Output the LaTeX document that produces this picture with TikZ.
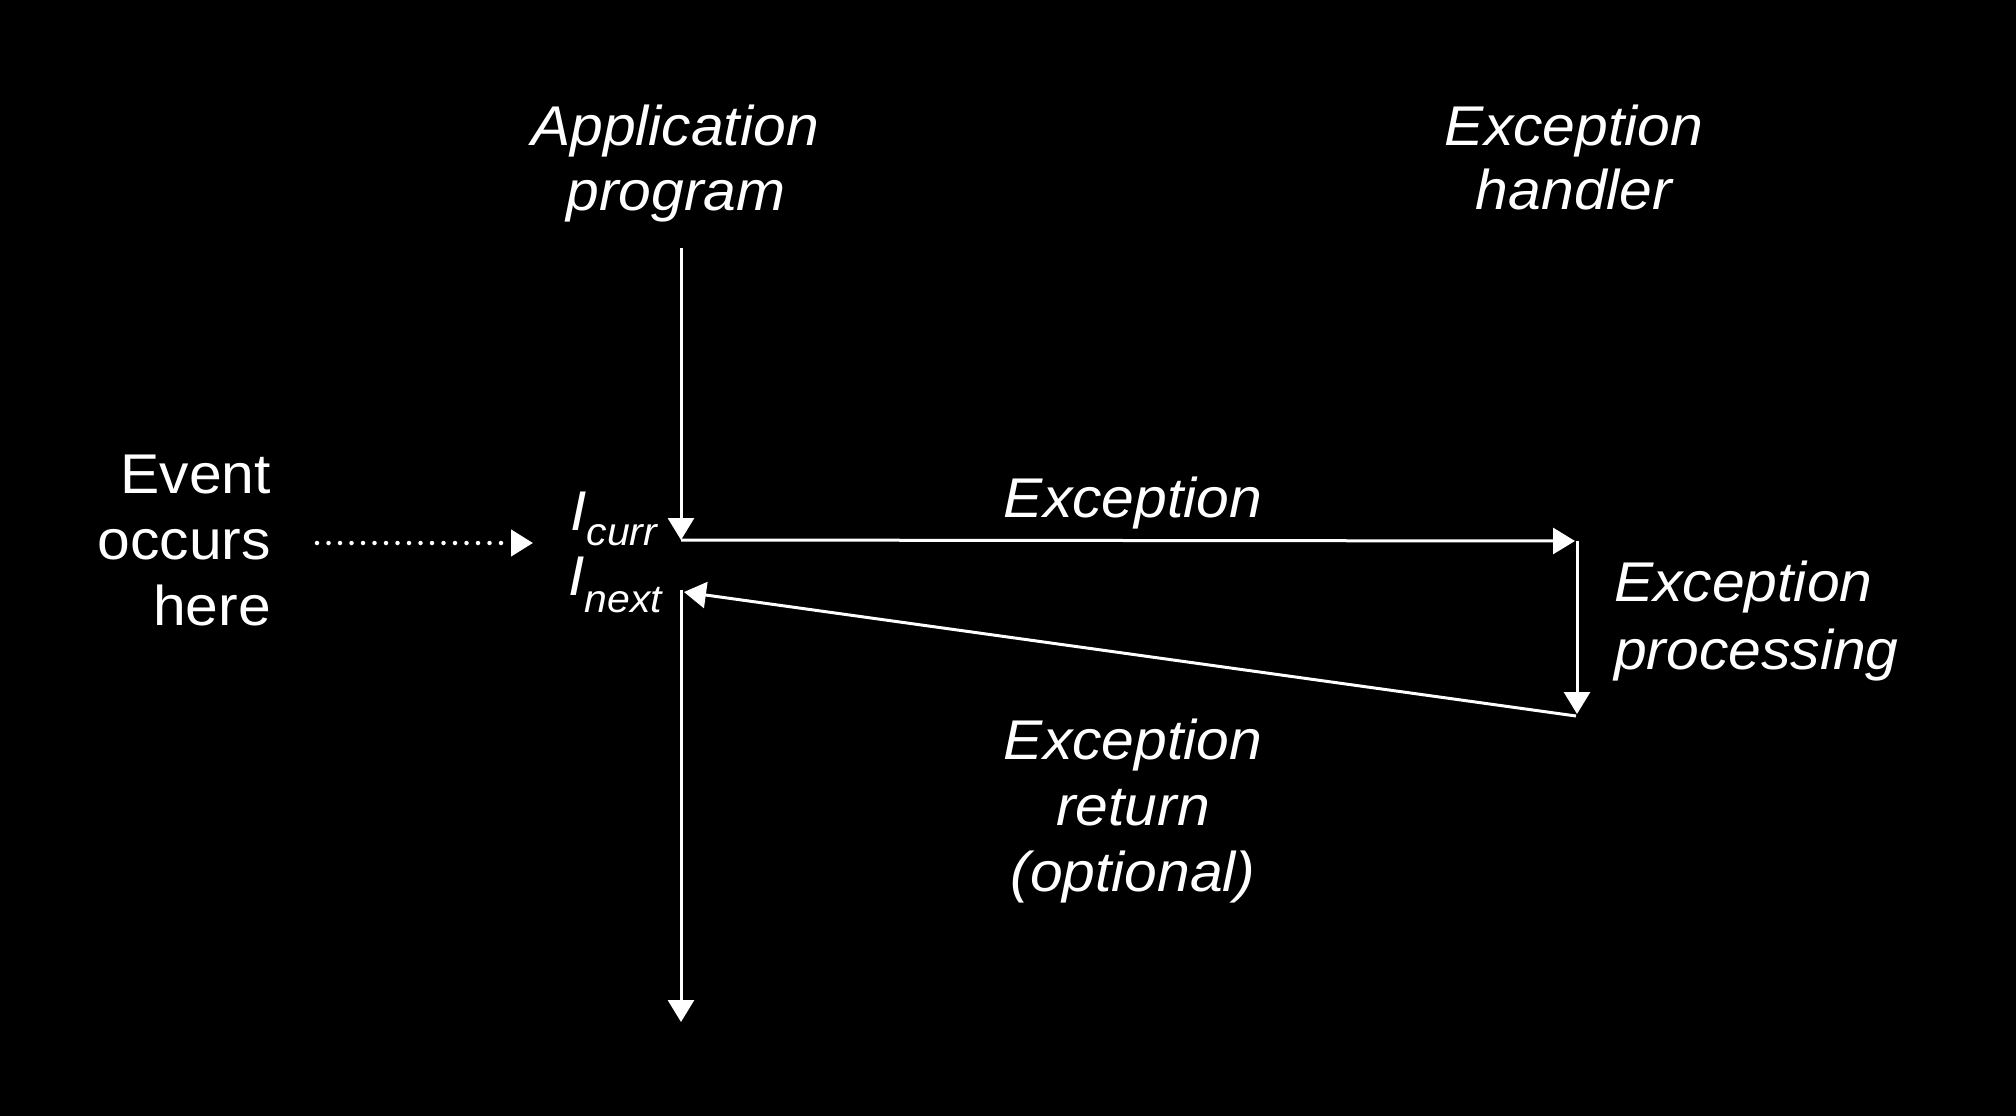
\documentclass[tikz,border=0pt]{standalone}
\usepackage{fontspec}
\setmainfont[FakeStretch=1.05]{Liberation Sans}
\usetikzlibrary{arrows.meta}
\begin{document}
\begin{tikzpicture}[x=1pt,y=-1pt,
  lbl/.style={text=white,inner sep=0pt,anchor=base,font=\fontsize{56}{65}\selectfont\itshape},
  lblup/.style={text=white,inner sep=0pt,font=\fontsize{56}{65}\selectfont},
  conn/.style={draw=white,line width=3pt,-{Triangle[width=26pt,length=22pt]}},
  dotconn/.style={draw=white,line width=4.5pt,line cap=round,dash pattern=on 0pt off 11.5pt,-{Triangle[width=26pt,length=22pt,line cap=butt]}}
]
\fill[black] (0,0) rectangle (2016,1116);
\useasboundingbox (0,0) rectangle (2016,1116);

% labels
\node[lbl] (app1) at (675,145) {Application};
\node[lbl] (app2) at (676,210) {program};
\node[lbl] (eh1) at (1574,145) {Exception};
\node[lbl] (eh2) at (1574,209) {handler};
\node[lblup,anchor=base east] (ev1) at (271,493) {Event};
\node[lblup,anchor=base east] (ev2) at (271,559) {occurs};
\node[lblup,anchor=base east] (ev3) at (271,625) {here};
\node[lbl,anchor=base west] (icurr) at (570,530) {I\raisebox{-15pt}{\fontsize{39}{40}\selectfont curr}};
\node[lbl,anchor=base west] (inext) at (568,595) {I\raisebox{-17pt}{\fontsize{39}{40}\selectfont next}};
\node[lbl] (exc) at (1133,517) {Exception};
\node[lbl,anchor=base west] (ep1) at (1614,601) {Exception};
\node[lbl,anchor=base west] (ep2) at (1614,669) {processing};
\node[lbl] (er1) at (1133,759) {Exception};
\node[lbl] (er2) at (1133,825) {return};
\node[lbl] (er3) at (1133,891) {(optional)};

% connector points
\coordinate (top) at (681,248);
\coordinate (cur) at (681,540);
\coordinate (hend) at (1575,541);
\coordinate (hv) at (1577,541);
\coordinate (pend) at (1577,714);
\coordinate (rstart) at (1576,716);
\coordinate (nxt) at (684,592);
\coordinate (nxtv) at (681,590);
\coordinate (bot) at (681,1022);
\coordinate (dotS) at (317,543);
\coordinate (dotE) at (533,543);

\draw[conn] (top) -- (cur);
\draw[conn] (cur) -- (hend);
\draw[conn] (hv) -- (pend);
\draw[conn] (rstart) -- (nxt);
\draw[conn] (nxtv) -- (bot);
\draw[dotconn] (dotS) -- (dotE);
\end{tikzpicture}
\end{document}
